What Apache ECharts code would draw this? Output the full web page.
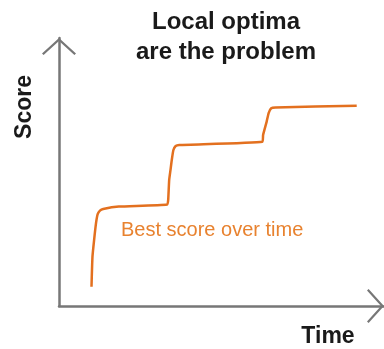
<!DOCTYPE html>
<html>
<head>
<meta charset="utf-8">
<script src="https://cdn.jsdelivr.net/npm/echarts@6/dist/echarts.min.js"></script>
<style>
  html, body { margin: 0; padding: 0; background: #fff; }
  #chart { width: 384px; height: 349px; }
</style>
</head>
<body>
<div id="chart"></div>
<script>
// best score over time (time 0-100, score 0-100)
const timeValues = [10.0, 10.3, 10.8, 11.4, 11.9, 12.6, 13.6, 18.4, 33.3, 33.6, 33.9, 34.3, 34.7, 35.2, 35.9, 37.0, 62.6, 62.8, 63.9, 64.5, 65.3, 66.6, 91.6];
const scoreValues = [7.2, 18.4, 24.6, 31.0, 34.3, 35.6, 36.2, 37.1, 37.9, 39.6, 47.0, 50.7, 54.5, 58.2, 59.7, 60.1, 61.3, 63.8, 68.8, 72.0, 73.8, 74.1, 74.7];

const titleText = "Local optima\nare the problem";
const xName = "Time";
const yName = "Score";
const seriesName = "Best score over time";

const FONT = "'Liberation Sans', Arial, sans-serif";
const AXIS_COLOR = "#777";
const LINE_COLOR = "#e3701f";

// open chevron used as the axis arrow head (tip at top)
const chevron = "path://M0 15.4L17 0L34 15.4L32.4 17L17 3L1.6 17Z";

const chart = echarts.init(document.getElementById("chart"));

const axisBase = {
  type: "value",
  min: 0,
  max: 100,
  axisLabel: { show: false },
  axisTick: { show: false },
  splitLine: { show: false },
  axisLine: {
    show: true,
    symbol: ["none", chevron],
    symbolSize: [34, 17],
    symbolOffset: [0, -8.5],
    lineStyle: { color: AXIS_COLOR, width: 2.5 },
  },
};

chart.setOption({
  animation: false,
  title: {
    text: titleText,
    left: 226,
    top: 7,
    padding: 0,
    textAlign: "center",
    textStyle: {
      fontFamily: FONT,
      fontSize: 24,
      fontWeight: "bold",
      color: "#1a1a1a",
      lineHeight: 30,
    },
  },
  grid: { left: 59, top: 38, width: 332, height: 268 },
  xAxis: Object.assign({}, axisBase),
  yAxis: Object.assign({}, axisBase),
  series: [
    {
      name: seriesName,
      type: "line",
      data: timeValues.map((t, i) => [t, scoreValues[i]]),
      showSymbol: false,
      smooth: 0.15,
      lineStyle: { color: LINE_COLOR, width: 2.5 },
    },
  ],
  graphic: [
    {
      type: "text",
      x: 25,
      y: 107,
      rotation: Math.PI / 2,
      style: {
        text: yName,
        font: "bold 23px " + FONT,
        fill: "#1a1a1a",
        align: "center",
        verticalAlign: "middle",
      },
    },
    {
      type: "text",
      x: 328,
      y: 337,
      style: {
        text: xName,
        font: "bold 23px " + FONT,
        fill: "#1a1a1a",
        align: "center",
        verticalAlign: "middle",
      },
    },
    {
      type: "text",
      x: 121,
      y: 230,
      style: {
        text: seriesName,
        font: "20px " + FONT,
        fill: "#e8822f",
        align: "left",
        verticalAlign: "middle",
      },
    },
  ],
});
</script>
</body>
</html>
